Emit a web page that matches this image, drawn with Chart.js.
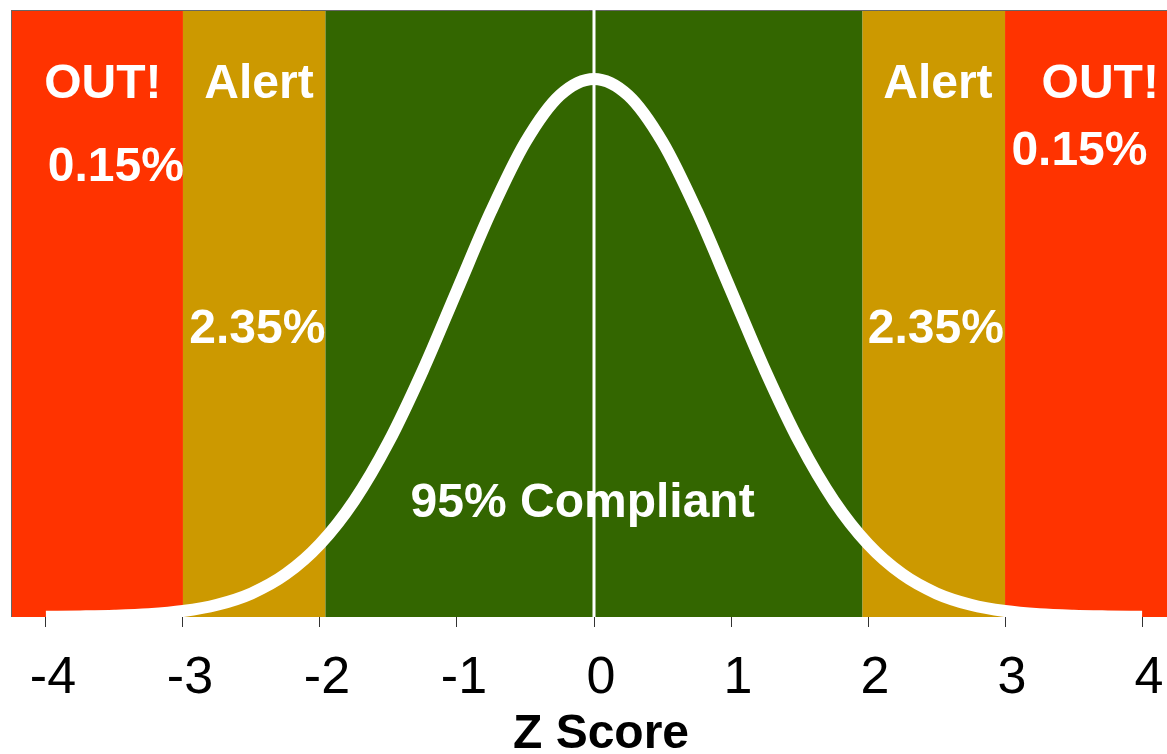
<!DOCTYPE html>
<html>
<head>
<meta charset="utf-8">
<script src="https://cdn.jsdelivr.net/npm/chart.js@4/dist/chart.umd.min.js"></script>
<style>
  html, body { margin: 0; padding: 0; background: #ffffff; }
  #wrap { width: 1167px; height: 754px; }
</style>
</head>
<body>
<div id="wrap"><canvas id="chart" width="1167" height="754"></canvas></div>
<script>
// Standard normal density sampled every 0.25 between -4 and 4
const zValues = [-4, -3.75, -3.5, -3.25, -3, -2.75, -2.5, -2.25, -2, -1.75, -1.5, -1.25, -1, -0.75, -0.5, -0.25,
                 0, 0.25, 0.5, 0.75, 1, 1.25, 1.5, 1.75, 2, 2.25, 2.5, 2.75, 3, 3.25, 3.5, 3.75, 4];
const density = [0.0001, 0.0004, 0.0009, 0.0020, 0.0044, 0.0091, 0.0175, 0.0317, 0.0540, 0.0863, 0.1295, 0.1826, 0.2420, 0.3011, 0.3521, 0.3867,
                 0.3989, 0.3867, 0.3521, 0.3011, 0.2420, 0.1826, 0.1295, 0.0863, 0.0540, 0.0317, 0.0175, 0.0091, 0.0044, 0.0020, 0.0009, 0.0004, 0.0001];

// Mean marker
const meanLineX = [0, 0];
const meanLineY = [0, 0.45];

// Axis ticks
const tickValues = [-4, -3, -2, -1, 0, 1, 2, 3, 4];
const tickLabels = ['-4', '-3', '-2', '-1', '0', '1', '2', '3', '4'];
const axisTitle = 'Z Score';

// Zone bands (z from, z to, colour)
const X_MIN = -4.255, X_MAX = 4.182, Y_MAX = 0.45;
const bandFrom   = [X_MIN, -3, -1.96, 1.96, 3];
const bandTo     = [-3, -1.96, 1.96, 3, X_MAX];
const bandColors = ['#FF3300', '#CC9900', '#336600', '#CC9900', '#FF3300'];

// Zone captions
const captionText = ['OUT!', '0.15%', 'Alert', '2.35%', '95% Compliant', 'Alert', '2.35%', 'OUT!', '0.15%'];
const captionZ    = [-3.584, -3.49, -2.445, -2.457, -0.083, 2.51, 2.495, 3.695, 3.543];
const captionY    = [0.3974, 0.3362, 0.3974, 0.2157, 0.0867, 0.3974, 0.2157, 0.3974, 0.348];

const FONT = '"Liberation Sans", Arial, sans-serif';

const bandsPlugin = {
  id: 'zoneBands',
  beforeDatasetsDraw(chart) {
    const { ctx, chartArea: a, scales: { x } } = chart;
    ctx.save();
    for (let i = 0; i < bandFrom.length; i++) {
      const x0 = x.getPixelForValue(bandFrom[i]);
      const x1 = x.getPixelForValue(bandTo[i]);
      ctx.fillStyle = bandColors[i];
      ctx.fillRect(x0, a.top, x1 - x0, a.bottom - a.top);
    }
    // frame on the left and top
    ctx.strokeStyle = '#666666';
    ctx.lineWidth = 1;
    ctx.beginPath();
    ctx.moveTo(a.left + 0.5, a.bottom);
    ctx.lineTo(a.left + 0.5, a.top + 0.5);
    ctx.lineTo(a.right, a.top + 0.5);
    ctx.stroke();
    ctx.restore();
  }
};

const captionPlugin = {
  id: 'zoneCaptions',
  afterDatasetsDraw(chart) {
    const { ctx, scales: { x, y } } = chart;
    const size = 48;
    ctx.save();
    ctx.font = 'bold ' + size + 'px ' + FONT;
    ctx.fillStyle = '#ffffff';
    ctx.textAlign = 'center';
    ctx.textBaseline = 'alphabetic';
    for (let i = 0; i < captionText.length; i++) {
      const px = x.getPixelForValue(captionZ[i]);
      const py = y.getPixelForValue(captionY[i]) + size * 0.358;
      ctx.fillText(captionText[i], px, py);
    }
    ctx.restore();
  }
};

// Axis title, set slightly right of the plot centre
const axisTitlePlugin = {
  id: 'axisTitle',
  afterDraw(chart) {
    const { ctx, chartArea: a, scales: { x } } = chart;
    ctx.save();
    ctx.font = 'bold 48px ' + FONT;
    ctx.fillStyle = '#000000';
    ctx.textAlign = 'center';
    ctx.textBaseline = 'middle';
    ctx.fillText(axisTitle, (a.left + a.right) / 2 + 12, x.bottom - 19);
    ctx.restore();
  }
};

new Chart(document.getElementById('chart'), {
  type: 'line',
  data: {
    datasets: [
      {
        label: 'Density',
        data: zValues.map((z, i) => ({ x: z, y: density[i] })),
        borderColor: '#ffffff',
        borderWidth: 12,
        borderCapStyle: 'butt',
        cubicInterpolationMode: 'monotone',
        pointRadius: 0,
        fill: false,
        clip: 0
      },
      {
        label: 'Mean',
        data: meanLineX.map((z, i) => ({ x: z, y: meanLineY[i] })),
        borderColor: '#ffffff',
        borderWidth: 3,
        pointRadius: 0,
        fill: false,
        clip: 0
      }
    ]
  },
  options: {
    responsive: false,
    animation: false,
    layout: { padding: { top: 10, left: 11, right: 0, bottom: 0 } },
    plugins: { legend: { display: false }, tooltip: { enabled: false } },
    scales: {
      x: {
        type: 'linear',
        min: X_MIN,
        max: X_MAX,
        afterBuildTicks(scale) {
          scale.ticks = tickValues.map(v => ({ value: v }));
        },
        afterFit(scale) {
          scale.height = 137;
          scale.paddingLeft = 0;
          scale.paddingRight = 0;
        },
        ticks: {
          callback: (v) => tickLabels[tickValues.indexOf(v)],
          color: '#000000',
          font: { family: FONT, size: 52 },
          padding: 20,
          labelOffset: 7,
          maxRotation: 0,
          autoSkip: false
        },
        grid: { drawOnChartArea: false, drawTicks: true, tickLength: 10, color: '#333333', lineWidth: 1 },
        border: { display: false },
        title: { display: false }
      },
      y: {
        display: false,
        min: 0,
        max: Y_MAX
      }
    }
  },
  plugins: [bandsPlugin, captionPlugin, axisTitlePlugin]
});
</script>
</body>
</html>
